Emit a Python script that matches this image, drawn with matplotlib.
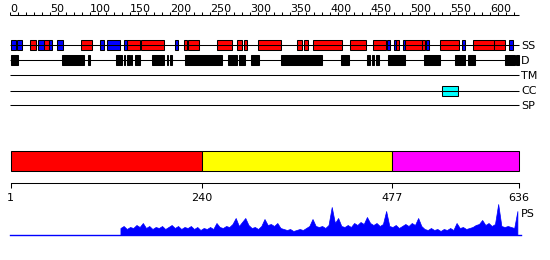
import matplotlib
matplotlib.use('Agg')
import matplotlib.pyplot as plt
from matplotlib.patches import Rectangle
import numpy as np

plt.rcParams['font.family'] = ['DejaVu Sans']

# ---------------- data (residue coordinates) ----------------
SEQ_LEN = 636
ss_helix = [(25, 33), (43, 49), (89, 102), (146, 162), (164, 193), (217, 221),
            (223, 236), (259, 277), (284, 290), (292, 296), (310, 338), (359, 365),
            (367, 372), (379, 415), (425, 445), (454, 470), (482, 486), (494, 515),
            (515, 518), (537, 561), (578, 605), (605, 618)]
ss_strand = [(1, 8), (9, 15), (35, 43), (49, 53), (59, 66), (112, 117), (121, 137),
             (142, 146), (206, 210), (471, 475), (480, 482), (491, 494), (520, 523),
             (565, 569), (624, 628)]
disorder = [(1, 10), (65, 67), (68, 93), (98, 100), (133, 140), (142, 144), (146, 150),
            (151, 152), (156, 162), (178, 182), (183, 187), (188, 192), (196, 198),
            (200, 202), (219, 265), (273, 284), (286, 294), (301, 311), (338, 390),
            (414, 424), (446, 450), (452, 455), (457, 461), (472, 494), (517, 537),
            (556, 569), (572, 581), (619, 631), (632, 636)]
transmembrane = []
coiled_coil = [(540, 560)]
signal_peptide = []
track_names = ['SS', 'D', 'TM', 'CC', 'SP']

domain_bounds = [1, 240, 477, 636]
domain_colors = ['#ff0000', '#ffff00', '#ff00ff']

top_ticks_minor = list(range(0, 631, 10))
top_ticks_major = list(range(0, 601, 50))

ps_start = 138
ps_step = 4
ps_values = [7, 9, 6, 8, 7, 10, 8, 12, 7, 9, 6, 8, 7,
             9, 6, 8, 10, 7, 9, 6, 8, 7, 9, 6, 8,
             5, 7, 6, 8, 6, 12, 8, 7, 9, 8, 11, 17, 9, 13,
             17, 10, 7, 8, 6, 9, 16, 10, 11, 9, 12,
             7, 6, 5, 6, 4, 5, 6, 5, 7, 9, 16, 9, 8, 9, 7,
             10, 28, 12, 17, 9, 8, 10, 8, 12, 10, 13, 11, 18, 12, 10, 12, 9,
             11, 24, 9, 8, 10, 7, 9, 11, 9, 12, 10, 17, 9,
             6, 5, 7, 5, 6, 4, 6, 5, 7, 5, 12, 7, 8, 6, 7, 8, 10,
             11, 15, 10, 12, 9, 11, 31, 9, 8, 9, 8, 7, 24]

# ---------------- layout (pixels) ----------------
W, H = 550, 260
fig = plt.figure(figsize=(W / 100, H / 100), dpi=100)
X0, X1 = 10, 519
ax = fig.add_axes([X0 / W, 0, (X1 - X0) / W, 1])
ax.set_xlim(0, SEQ_LEN)
ax.set_ylim(H, 0)
ax.axis('off')

LW = 0.75
FS = 8
label_x = SEQ_LEN + 2.5

# top ruler
axis_y = 14.5
ax.plot([0, SEQ_LEN], [axis_y, axis_y], color='black', lw=LW, solid_capstyle='butt', clip_on=False)
ax.vlines(top_ticks_minor, axis_y - 3, axis_y, color='black', lw=LW)
for t in top_ticks_major:
    ax.text(t, axis_y - 3, str(t), ha='left', va='baseline', fontsize=FS)

# tracks
track_y = [45, 60, 75, 90.5, 105]
for y, name in zip(track_y, track_names):
    ax.plot([0, SEQ_LEN], [y, y], color='black', lw=LW, solid_capstyle='butt', clip_on=False)
    ax.text(label_x, y + 4, name, ha='left', va='baseline', fontsize=FS)

def boxes(segs, y, color, h=10):
    for s, e in segs:
        ax.add_patch(Rectangle((s, y - h / 2), e - s, h, facecolor=color,
                               edgecolor='black', lw=LW, clip_on=False))

boxes(ss_helix, track_y[0], '#ff0000')
boxes(ss_strand, track_y[0], '#0000ff')
boxes(disorder, track_y[1], 'black', h=10.5)
boxes(transmembrane, track_y[2], '#00ff00')
boxes(coiled_coil, track_y[3], '#00ffff')
boxes(signal_peptide, track_y[4], '#ff8800')

# domain bar
bar_top, bar_bot = 150.5, 171
for (s, e), c in zip(zip(domain_bounds[:-1], domain_bounds[1:]), domain_colors):
    ax.add_patch(Rectangle((s, bar_top), e - s, bar_bot - bar_top, facecolor=c,
                           edgecolor='black', lw=LW, clip_on=False))

# bottom ruler
ruler_y = 183
ax.plot([domain_bounds[0], domain_bounds[-1]], [ruler_y, ruler_y], color='black', lw=LW, clip_on=False)
ax.vlines(domain_bounds, ruler_y, ruler_y + 5, color='black', lw=LW, clip_on=False)
for b in domain_bounds:
    ax.text(b, 201, str(b), ha='center', va='baseline', fontsize=FS)

# PS profile
PS_BASE, PS_TOP = 235, 205
pax = fig.add_axes([X0 / W, (H - PS_BASE) / H, (X1 - X0) / W, (PS_BASE - PS_TOP) / H])
pax.set_xlim(0, SEQ_LEN)
pax.set_ylim(0, PS_BASE - PS_TOP)
pax.axis('off')
ps_x = ps_start + ps_step * np.arange(len(ps_values))
pax.fill_between(ps_x, 0, ps_values, color='#0000ff', lw=0.5, clip_on=False)
pax.plot([0, SEQ_LEN + 2], [0, 0], color='#0000ff', lw=1.0, clip_on=False)
ax.text(label_x, 217, 'PS', ha='left', va='baseline', fontsize=FS)

fig.savefig('out.png', dpi=100)
